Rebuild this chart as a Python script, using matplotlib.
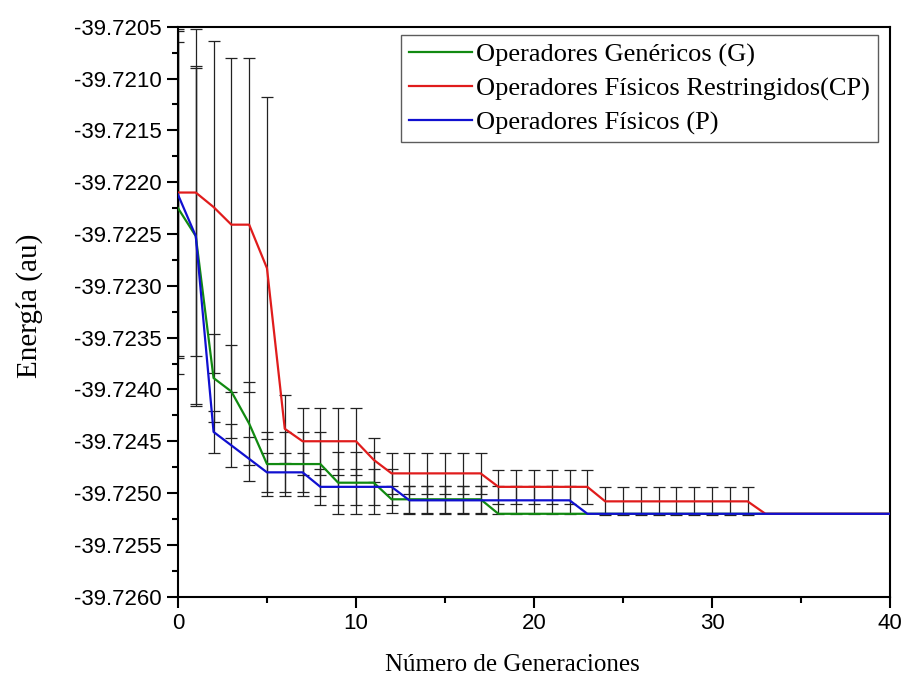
import matplotlib
matplotlib.use("Agg")
import matplotlib.pyplot as plt
from matplotlib.ticker import MultipleLocator, FormatStrFormatter

generations = list(range(41))

# energy (au) per generation
energy_g = ([-39.72225, -39.72252, -39.72389, -39.72402, -39.72433]
            + [-39.72472] * 4 + [-39.72490] * 3 + [-39.72506] * 6
            + [-39.72520] * 23)
energy_cp = ([-39.72210, -39.72210, -39.72224, -39.72241, -39.72241,
              -39.72283, -39.72438] + [-39.72450] * 4 + [-39.72468]
             + [-39.72481] * 6 + [-39.72494] * 6 + [-39.72508] * 9
             + [-39.72520] * 8)
energy_p = ([-39.72212, -39.72252, -39.72441, -39.72454, -39.72467]
            + [-39.72480] * 3 + [-39.72494] * 5 + [-39.72507] * 10
            + [-39.72520] * 18)

# error bar half widths
err_g = ([0.00160, 0.00164, 0.000425, 0.000445, 0.00040] + [0.00031] * 4
         + [0.00030] * 3 + [0.00013] * 6 + [0.0] * 23)
err_cp = ([0.00158, 0.00158, 0.00160, 0.00161, 0.00161, 0.00165, 0.00033]
          + [0.000325] * 4 + [0.00021] + [0.00020] * 6 + [0.000167] * 6
          + [0.000135] * 9 + [0.0] * 8)
err_p = ([0.00158, 0.00162, 0.00020, 0.00021, 0.00021] + [0.00019] * 3
         + [0.000175] * 5 + [0.000135] * 10 + [0.0] * 18)

labels = ["Operadores Genéricos (G)",
          "Operadores Físicos Restringidos(CP)",
          "Operadores Físicos (P)"]
colors = ["#118a11", "#e01c1c", "#1010d0"]

fig = plt.figure(figsize=(9.02, 6.8), dpi=100)
ax = fig.add_axes([0.1973, 0.1225, 0.7894, 0.8382])

series = [(energy_g, err_g), (energy_cp, err_cp), (energy_p, err_p)]
for (y, e), lab, c in zip(series, labels, colors):
    xs = [g for g, v in zip(generations, e) if v > 0]
    ys = [yy for yy, v in zip(y, e) if v > 0]
    es = [v for v in e if v > 0]
    ax.errorbar(xs, ys, yerr=es, fmt="none", ecolor="#222222",
                elinewidth=0.9, capsize=4.5, capthick=0.9, zorder=2)
for (y, e), lab, c in zip(series, labels, colors):
    ax.plot(generations, y, color=c, lw=1.6, label=lab, zorder=3)

ax.set_xlim(0, 40)
ax.set_ylim(-39.7260, -39.7205)
ax.xaxis.set_major_locator(MultipleLocator(10))
ax.xaxis.set_minor_locator(MultipleLocator(5))
ax.yaxis.set_major_locator(MultipleLocator(0.0005))
ax.yaxis.set_minor_locator(MultipleLocator(0.00025))
ax.yaxis.set_major_formatter(FormatStrFormatter("%.4f"))

for s in ax.spines.values():
    s.set_linewidth(1.5)
ax.tick_params(which="major", direction="out", length=8, width=1.5,
               labelsize=16, pad=4)
ax.tick_params(which="minor", direction="out", length=4.5, width=1.5)
for t in ax.get_xticklabels() + ax.get_yticklabels():
    t.set_fontfamily("Liberation Sans")

ax.set_xlabel("Número de Generaciones", fontfamily="Liberation Serif",
              fontsize=18)
ax.set_ylabel("Energía (au)", fontfamily="Liberation Serif", fontsize=21)
ax.xaxis.set_label_coords(0.47, -0.1)
ax.yaxis.set_label_coords(-0.19, 0.51)

leg = ax.legend(loc="upper right", bbox_to_anchor=(0.99, 0.995),
                prop={"family": "Liberation Serif", "size": 19},
                frameon=True, fancybox=False, edgecolor="#333333",
                handlelength=2.4, handletextpad=0.15, labelspacing=0.38,
                borderpad=0.3, borderaxespad=0.2)
leg.get_frame().set_linewidth(1.0)

fig.savefig("out.png", dpi=100)
